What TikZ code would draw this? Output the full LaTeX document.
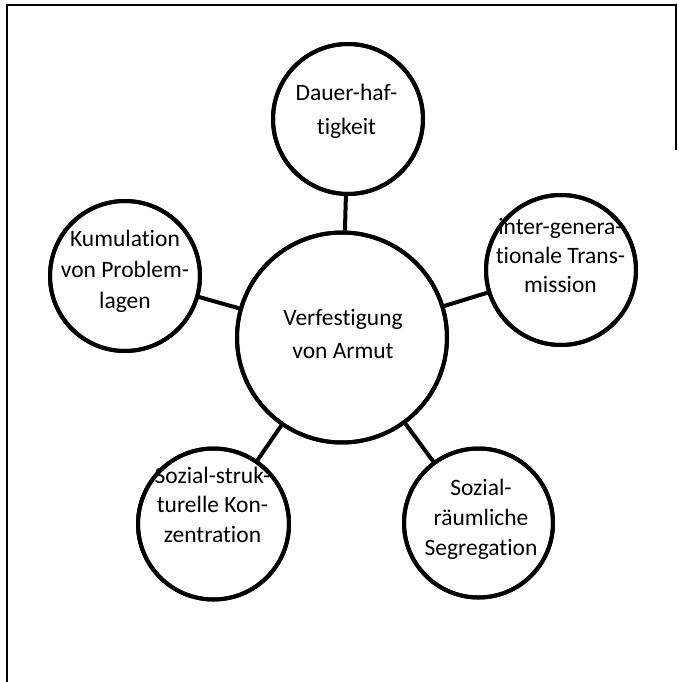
\documentclass[tikz,border=0pt]{standalone}
\usepackage{fontspec}
\setmainfont{Carlito}[Ligatures={NoCommon}]
\begin{document}
\begin{tikzpicture}[x=1pt,y=-1pt,
  circ/.style={circle, draw, line width=4pt, fill=white, inner sep=0pt, minimum size=#1},
  ring/.style={line width=4pt},
  conn/.style={line width=4pt},
  lbl/.style={anchor=base, inner sep=0pt, font=\fontsize{23.5}{#1}\selectfont},
  frame/.style={line width=1.5pt}]
\useasboundingbox (0,0) rectangle (679,682);
\draw[frame] (7,682) -- (7,5) -- (676,5) -- (676,150);
% circles
\node[circ=210] (C) at (342,337.5) {};
\node[circ=150] (T) at (348,119) {};
\node[circ=150] (L) at (125,276) {};
\node[circ=150] (R) at (561,270) {};
\node[circ=151] (BL) at (213.5,524) {};
\node[circ=149] (BR) at (478.5,523) {};
% connectors
\draw[conn] (C) -- (T);
\draw[conn] (C) -- (L);
\draw[conn] (C) -- (R);
\draw[conn] (C) -- (BL);
\draw[conn] (C) -- (BR);
% texts
\node[lbl=33.5] (tC) at (343,325) {\begin{tabular}[t]{@{}c@{}}Verfestigung\\von Armut\end{tabular}};
\node[lbl=34] (tT) at (346.5,101) {\begin{tabular}[t]{@{}c@{}}Dauer-haf-\\tigkeit\end{tabular}};
\node[lbl=31] (tL) at (125,246) {\begin{tabular}[t]{@{}c@{}}Kumulation\\von Problem-\\lagen\end{tabular}};
\node[lbl=29] (tR) at (560.5,234) {\begin{tabular}[t]{@{}c@{}}inter-genera-\\tionale Trans-\\mission\end{tabular}};
\node[lbl=29.5] (tBL) at (212.5,483) {\begin{tabular}[t]{@{}c@{}}Sozial-struk-\\turelle Kon-\\zentration\end{tabular}};
\node[lbl=30] (tBR) at (481,495) {\begin{tabular}[t]{@{}c@{}}Sozial-\\räumliche\\Segregation\end{tabular}};
% rings over text
\draw[ring] (C.center) circle[radius=105];
\draw[ring] (T.center) circle[radius=75];
\draw[ring] (L.center) circle[radius=75];
\draw[ring] (R.center) circle[radius=75];
\draw[ring] (BL.center) circle[radius=75.5];
\draw[ring] (BR.center) circle[radius=74.5];
\end{tikzpicture}
\end{document}
